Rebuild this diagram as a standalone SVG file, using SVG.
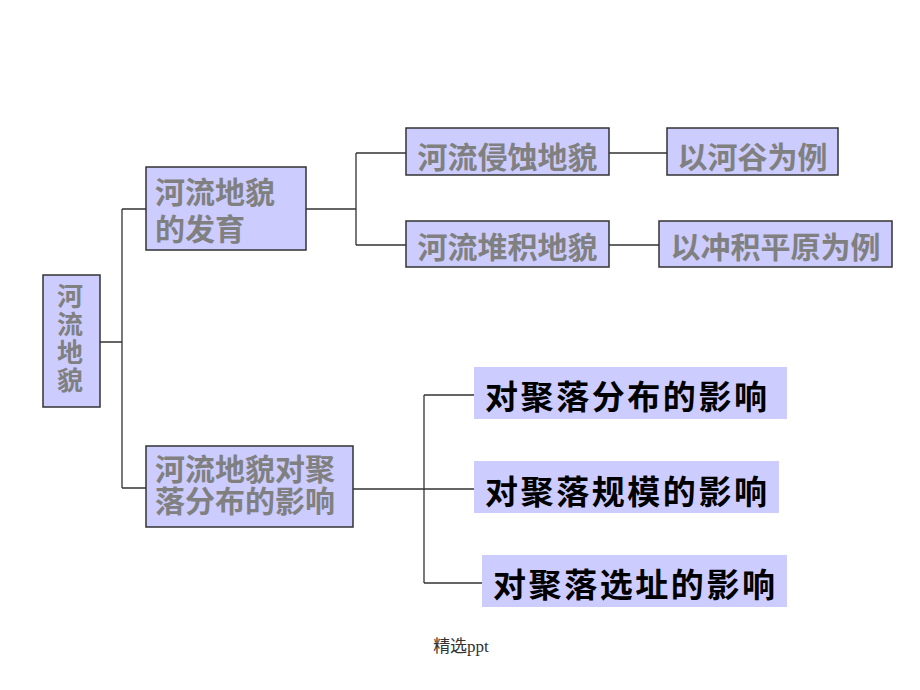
<svg xmlns="http://www.w3.org/2000/svg" width="920" height="690" viewBox="0 0 920 690">
<style>
.box{fill:#ccccff;stroke:#333333;stroke-width:1.5}
.pbox{fill:#ccccff;stroke:none}
.gt{font-family:"Noto Sans CJK SC","Noto Sans CJK JP",sans-serif;font-weight:bold;fill:#808080;font-size:30px;dominant-baseline:central}
.g2{font-family:"Liberation Sans","Noto Sans CJK SC","Noto Sans CJK JP",sans-serif;font-weight:bold;fill:#808080;font-size:30px;dominant-baseline:central}
.bt{font-family:"Noto Sans CJK SC","Noto Sans CJK JP",sans-serif;font-weight:bold;fill:#000000;font-size:33px;dominant-baseline:central}
.ln{fill:none;stroke:#333333;stroke-width:1.3}
.ft{font-family:"Liberation Serif","Noto Sans CJK SC",serif;font-size:17px;fill:#333333}
</style>
<rect width="920" height="690" fill="#ffffff"/>
<g id="connectors">
<path class="ln" d="M100,342 H122 M122,209 V488 M122,209 H146 M122,488 H146"/>
<path class="ln" d="M306,209 H356 M356,153 V245 M356,153 H406 M356,245 H406"/>
<path class="ln" d="M609,153 H667 M609,245 H659"/>
<path class="ln" d="M353,489 H424 M424,395 V583 M424,395 H474 M424,489 H474 M424,583 H482"/>
</g>
<g id="root">
<rect class="box" x="43" y="275" width="57" height="132"/>
<text x="70" y="283" style="font-family:'Noto Sans CJK SC','Noto Sans CJK JP',sans-serif;font-weight:bold;fill:#808080;font-size:26px;writing-mode:vertical-rl;text-orientation:upright;letter-spacing:2px">河流地貌</text>
</g>
<g id="n-development">
<rect class="box" x="146" y="167" width="160" height="83"/>
<text class="g2"><tspan x="155" y="192">河流地貌</tspan><tspan x="155" y="229">的发育</tspan></text>
</g>
<g id="n-settlement">
<rect class="box" x="146" y="446" width="207" height="81"/>
<text class="g2"><tspan x="155" y="469">河流地貌对聚</tspan><tspan x="155" y="501">落分布的影响</tspan></text>
</g>
<g id="n-erosion">
<rect class="box" x="406" y="128" width="203" height="47"/>
<text class="gt" x="507.5" y="154.5" text-anchor="middle">河流侵蚀地貌</text>
</g>
<g id="n-deposition">
<rect class="box" x="406" y="221" width="203" height="46"/>
<text class="gt" x="507.5" y="245" text-anchor="middle">河流堆积地貌</text>
</g>
<g id="n-valley">
<rect class="box" x="667" y="128" width="171" height="47"/>
<text class="gt" x="752.5" y="154.5" text-anchor="middle">以河谷为例</text>
</g>
<g id="n-plain">
<rect class="box" x="659" y="221" width="233" height="46"/>
<text class="gt" x="775.5" y="245" text-anchor="middle">以冲积平原为例</text>
</g>
<g id="n-distribution">
<rect class="pbox" x="474" y="367" width="313" height="52"/>
<text class="bt" x="485" y="395" textLength="282" lengthAdjust="spacing">对聚落分布的影响</text>
</g>
<g id="n-scale">
<rect class="pbox" x="474" y="461" width="305" height="52"/>
<text class="bt" x="485" y="490" textLength="282" lengthAdjust="spacing">对聚落规模的影响</text>
</g>
<g id="n-site">
<rect class="pbox" x="482" y="555" width="305" height="52"/>
<text class="bt" x="493" y="583" textLength="282" lengthAdjust="spacing">对聚落选址的影响</text>
</g>
<text class="ft" x="461" y="652" text-anchor="middle">精选ppt</text>
</svg>
